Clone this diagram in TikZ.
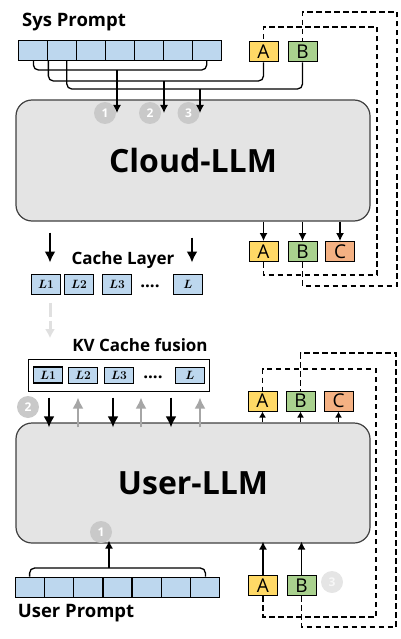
\documentclass[tikz,border=0pt]{standalone}
\usepackage{fontspec}
\setmainfont{Open Sans}
\usetikzlibrary{positioning,arrows.meta}

\definecolor{cellblue}{HTML}{BDD7EE}
\definecolor{tagyellow}{HTML}{FFD966}
\definecolor{taggreen}{HTML}{A9D18E}
\definecolor{tagorange}{HTML}{F4B183}
\definecolor{llmfill}{HTML}{E4E4E4}
\definecolor{llmline}{HTML}{404040}
\definecolor{badgegray}{HTML}{C9C9C9}
\definecolor{upgray}{HTML}{A6A6A6}

\tikzset{
  cell/.style={draw, fill=cellblue, line width=1pt, inner sep=0pt, minimum width=28.9pt, minimum height=20pt},
  layer/.style={draw, fill=cellblue, line width=1pt, inner sep=0pt, minimum width=29pt, minimum height=20pt, font=\fontsize{12}{12}\selectfont\boldmath},
  tag/.style={draw, line width=1pt, inner sep=0pt, minimum width=29pt, minimum height=20pt, font=\fontsize{19}{19}\selectfont},
  llm/.style={draw=llmline, fill=llmfill, line width=1.2pt, rounded corners=16pt, minimum width=354pt, font=\fontsize{32}{32}\selectfont\bfseries},
  title/.style={font=\fontsize{17}{17}\selectfont\bfseries, inner sep=0pt},
  badge/.style={circle, fill=badgegray, inner sep=0pt, minimum size=22pt, text=white, font=\fontsize{12}{12}\selectfont\bfseries},
  wire/.style={line width=1.3pt, rounded corners=5pt},
  arr/.style={-{Latex[length=8pt,width=8pt]}, line width=1.3pt},
  smallarr/.style={-{Latex[length=6pt,width=7pt]}, line width=1.3pt},
  fatarr/.style={-{Latex[length=11pt,width=11pt]}, line width=2pt},
  backarr/.style={-{Latex[length=11pt,width=11pt]}, line width=2pt, upgray},
  feedback/.style={line width=1.6pt, dash pattern=on 5.5pt off 3.5pt},
}

\begin{document}
\begin{tikzpicture}[x=1pt, y=-1pt]
\useasboundingbox (0,0) rectangle (400,639);

% cloud side
\node[title, font=\fontsize{18.5}{18.5}\selectfont\bfseries] (syslabel) at (74,22) {Sys Prompt};
\node[cell] (s1) at (33.4,50.5) {};
\node[cell] (s2) at (62.3,50.5) {};
\node[cell] (s3) at (91.2,50.5) {};
\node[cell] (s4) at (120.0,50.5) {};
\node[cell] (s5) at (148.9,50.5) {};
\node[cell] (s6) at (177.8,50.5) {};
\node[cell] (s7) at (206.7,50.5) {};
\node[tag, fill=tagyellow] (A1) at (263.5,52) {A};
\node[tag, fill=taggreen] (B1) at (302.5,52) {B};

\node[llm, minimum height=121pt] (cloud) at (193,160.5) {Cloud-LLM};
\node[badge] (n1) at (105,113) {1};
\node[badge] (n2) at (150,113) {2};
\node[badge] (n3) at (188.5,113) {3};

\draw[wire] (s1.south) -- (s1.south |- 0,70) -- (s7.south |- 0,70) -- (s7.south);
\draw[wire] (s1.south east) -- (s1.south east |- 0,81) -- (A1.south |- 0,81) -- (A1.south);
\draw[wire] ([xshift=4.5pt]s2.south) -- ([xshift=4.5pt]s2.south |- 0,89) -- (B1.south |- 0,89) -- (B1.south);
\coordinate (m1) at (117,70);
\coordinate (m2) at (164,81);
\coordinate (m3) at (200,89);
\draw[arr] (m1) -- (m1 |- n1);
\draw[arr] (m2) -- (m2 |- n2);
\draw[arr] (m3) -- (m3 |- n3);

\node[tag, fill=tagyellow] (A2) at (263.5,251.5) {A};
\node[tag, fill=taggreen] (B2) at (302.5,251.5) {B};
\node[tag, fill=tagorange] (C2) at (340,251.5) {C};
\draw[arr] (A2 |- cloud.south) -- (A2.north);
\draw[arr] (B2 |- cloud.south) -- (B2.north);
\draw[arr] (C2 |- cloud.south) -- (C2.north);

\draw[feedback] (A2.south) -- (A2.south |- 0,275) -| (377,27) -| (A1.north);
\draw[feedback] (B2.south) -- (B2.south |- 0,286) -| (397,12) -| (B1.north);

% cache layers
\node[title] (cachelabel) at (123,260) {Cache Layer};
\node[layer] (c1) at (46,284) {$L1$};
\node[layer] (c2) at (79,284) {$L2$};
\node[layer] (c3) at (117,284) {$L3$};
\node[title] (cdots) at (150,286) {....};
\node[layer] (cL) at (188,284) {$L$};
\draw[fatarr, shorten <=11pt, shorten >=11pt] ([xshift=4pt]cloud.south -| c1) -- ([xshift=4pt]c1.north);
\draw[fatarr, shorten <=16pt, shorten >=11pt] ([xshift=4pt]cloud.south -| cL) -- ([xshift=4pt]cL.north);

% fusion
\node[title] (kvlabel) at (140,345) {KV Cache fusion};
\node[draw, line width=1pt, minimum width=181pt, minimum height=32pt] (fusion) at (118.5,375) {};
\node[layer, minimum height=16pt, line width=1.5pt] (k1) at (48,375) {$L1$};
\node[layer, minimum height=16pt] (k2) at (83,375) {$L2$};
\node[layer, minimum height=16pt] (k3) at (119,375) {$L3$};
\node[title] (kdots) at (153,377) {....};
\node[layer, minimum height=16pt] (kL) at (190,375) {$L$};
\draw[-{Latex[length=9pt,width=10pt]}, line width=3pt, black!12, dash pattern=on 14pt off 4pt, shorten <=8pt] ([xshift=4pt]c1.south) -- ([xshift=4pt]c1.south |- kvlabel.north);

% user side
\node[llm, minimum height=120pt] (user) at (193,483) {User-LLM};
\node[badge] (u2) at (28,407) {2};
\node[badge] (u1) at (101,532) {1};
\node[badge, fill=black!10, text=black!3] (u3) at (332,582) {3};

\draw[fatarr, shorten <=6pt, shorten >=-5pt] (fusion.south -| 49,0) -- (user.north -| 49,0);
\draw[fatarr, shorten <=6pt, shorten >=-5pt] (fusion.south -| 113,0) -- (user.north -| 113,0);
\draw[fatarr, shorten <=6pt, shorten >=-5pt] (fusion.south -| 171,0) -- (user.north -| 171,0);
\draw[backarr, shorten <=-5pt, shorten >=6pt] (user.north -| 78,0) -- (fusion.south -| 78,0);
\draw[backarr, shorten <=-5pt, shorten >=6pt] (user.north -| 141,0) -- (fusion.south -| 141,0);
\draw[backarr, shorten <=-5pt, shorten >=6pt] (user.north -| 200,0) -- (fusion.south -| 200,0);

\node[tag, fill=tagyellow] (A3) at (262.5,401) {A};
\node[tag, fill=taggreen] (B3) at (300.5,401) {B};
\node[tag, fill=tagorange] (C3) at (338.5,401) {C};
\draw[smallarr] (A3 |- user.north) -- (A3.south);
\draw[smallarr] (B3 |- user.north) -- (B3.south);
\draw[smallarr] (C3 |- user.north) -- (C3.south);

\node[cell] (p1) at (29.6,587) {};
\node[cell] (p2) at (58.9,587) {};
\node[cell] (p3) at (88.2,587) {};
\node[cell] (p4) at (117.5,587) {};
\node[cell] (p5) at (146.8,587) {};
\node[cell] (p6) at (176.1,587) {};
\node[cell] (p7) at (205.4,587) {};
\node[title, font=\fontsize{18.5}{18.5}\selectfont\bfseries] (userlabel) at (76,613) {User Prompt};
\draw[wire] (p1.north) -- (p1.north |- 0,568) -- (p7.north |- 0,568) -- (p7.north);
\coordinate (m4) at (109,568);
\draw[arr] (m4) -- (m4 |- user.south) -- ++(0,-3);

\node[tag, fill=tagyellow] (A4) at (263,585.5) {A};
\node[tag, fill=taggreen] (B4) at (301.5,585.5) {B};
\draw[arr] (A4.north) -- ([yshift=2pt]A4 |- user.south);
\draw[arr] (B4.north) -- ([yshift=2pt]B4 |- user.south);

\draw[feedback] (A4.south) -- (A4.south |- 0,617) -| (376,369) -| (A3.north);
\draw[feedback] (B4.south) -- (B4.south |- 0,627) -| (396,353) -| (B3.north);
\end{tikzpicture}
\end{document}
